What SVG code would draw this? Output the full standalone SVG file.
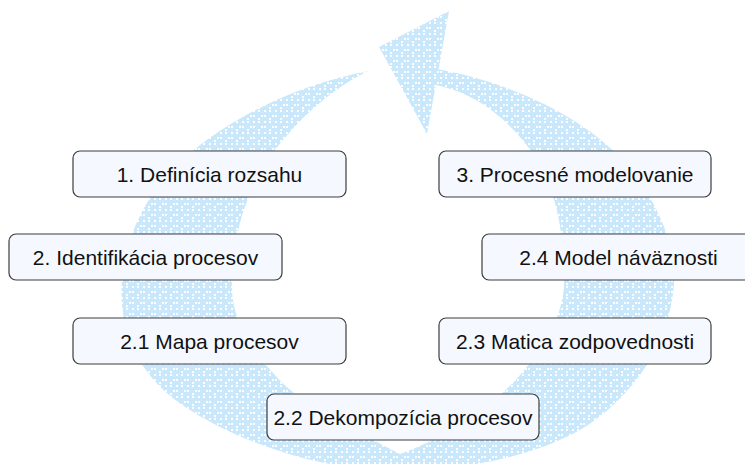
<svg xmlns="http://www.w3.org/2000/svg" width="745" height="464" viewBox="0 0 745 464">
  <defs>
    <!-- light blue fill with a sparse grid of small white squares -->
    <pattern id="dots" width="11" height="11" patternUnits="userSpaceOnUse">
      <rect width="11" height="11" fill="#cae8fc"/>
      <rect x="0" y="0" width="2" height="2" fill="#ffffff"/>
      <rect x="5" y="0" width="2" height="2" fill="#ffffff"/>
      <rect x="0" y="5" width="2" height="2" fill="#ffffff"/>
      <rect x="8" y="5" width="2" height="2" fill="#ffffff"/>
      <rect x="5" y="8" width="2" height="2" fill="#ffffff"/>
    </pattern>
    <style>
      .band { fill: url(#dots); stroke: none; }
      .box { fill: #f5f9ff; stroke: #3c3c3c; stroke-width: 1.2; }
      .label { font-family: "Liberation Sans", Arial, sans-serif; font-size: 21px; fill: #111111; text-anchor: middle; }
    </style>
  </defs>

  <rect width="745" height="464" fill="#ffffff"/>

  <!-- circular arrow running round the steps -->
  <g id="connectors">
    <!-- left half: tapers to a point at the top -->
    <path class="band" d="M 368 71
      C 290 86, 215 125, 170 172
      C 135 210, 118 260, 122 305
      C 126 350, 150 385, 190 410
      C 240 442, 320 470, 400 472
      L 400 454
      C 355 430, 300 405, 275 375
      C 250 348, 233 320, 232 290
      C 231 240, 245 190, 275 150
      C 300 118, 330 90, 368 71 Z"/>
    <!-- right half: runs up into the arrowhead -->
    <path class="band" d="M 425 67
      C 500 78, 590 115, 635 175
      C 665 215, 680 260, 672 300
      C 664 350, 630 400, 580 430
      C 530 458, 460 470, 400 472
      L 400 454
      C 440 440, 490 410, 520 375
      C 548 343, 566 310, 564 275
      C 563 225, 556 165, 500 117
      C 480 100, 460 90, 432 84 Z"/>
    <!-- arrowhead -->
    <polygon class="band" points="379,47 449,11 427,134"/>
  </g>

  <g id="node-definicia">
    <rect class="box" x="73" y="151" width="273" height="46" rx="7"/>
    <text class="label" x="209.5" y="182">1. Definícia rozsahu</text>
  </g>
  <g id="node-identifikacia">
    <rect class="box" x="9" y="234" width="273" height="46" rx="7"/>
    <text class="label" x="145.5" y="265">2. Identifikácia procesov</text>
  </g>
  <g id="node-mapa">
    <rect class="box" x="73" y="318" width="273" height="46" rx="7"/>
    <text class="label" x="209.5" y="349">2.1 Mapa procesov</text>
  </g>
  <g id="node-dekompozicia">
    <rect class="box" x="267" y="394" width="272" height="46" rx="7"/>
    <text class="label" x="403" y="425">2.2 Dekompozícia procesov</text>
  </g>
  <g id="node-matica">
    <rect class="box" x="439" y="318" width="272" height="46" rx="7"/>
    <text class="label" x="575" y="349">2.3 Matica zodpovednosti</text>
  </g>
  <g id="node-model">
    <rect class="box" x="482" y="234" width="273" height="46" rx="7"/>
    <text class="label" x="618.5" y="265">2.4 Model náväznosti</text>
  </g>
  <g id="node-modelovanie">
    <rect class="box" x="439" y="151" width="272" height="46" rx="7"/>
    <text class="label" x="575" y="182">3. Procesné modelovanie</text>
  </g>
</svg>
